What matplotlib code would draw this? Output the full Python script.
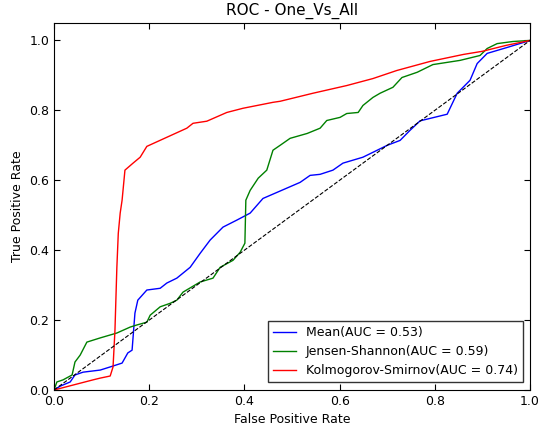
import numpy as np
import matplotlib
matplotlib.use("Agg")
import matplotlib.pyplot as plt

# ROC points (fpr, tpr)
mean_fpr = [0.0, 0.013, 0.034, 0.044, 0.061, 0.097, 0.118, 0.143, 0.155, 0.164, 0.170,
            0.176, 0.195, 0.223, 0.237, 0.258, 0.286, 0.307, 0.328, 0.355, 0.384, 0.412,
            0.439, 0.517, 0.538, 0.559, 0.586, 0.607, 0.649, 0.670, 0.700, 0.727, 0.748,
            0.769, 0.826, 0.847, 0.874, 0.889, 0.910, 0.952, 1.0]
mean_tpr = [0.0, 0.011, 0.023, 0.043, 0.051, 0.057, 0.066, 0.077, 0.106, 0.114, 0.220,
            0.257, 0.286, 0.291, 0.306, 0.320, 0.351, 0.391, 0.429, 0.466, 0.486, 0.506,
            0.548, 0.594, 0.614, 0.617, 0.629, 0.649, 0.666, 0.680, 0.700, 0.714, 0.743,
            0.770, 0.789, 0.849, 0.886, 0.934, 0.963, 0.980, 1.0]

js_fpr = [0.0, 0.006, 0.019, 0.038, 0.044, 0.055, 0.069, 0.097, 0.132, 0.160, 0.174,
          0.195, 0.202, 0.223, 0.244, 0.258, 0.271, 0.307, 0.334, 0.349, 0.376, 0.391,
          0.401, 0.403, 0.412, 0.429, 0.447, 0.460, 0.475, 0.496, 0.532, 0.559, 0.573,
          0.601, 0.615, 0.639, 0.649, 0.670, 0.685, 0.712, 0.731, 0.763, 0.796, 0.853,
          0.895, 0.910, 0.931, 0.964, 1.0]
js_tpr = [0.0, 0.023, 0.029, 0.043, 0.080, 0.100, 0.137, 0.149, 0.163, 0.180, 0.186,
          0.194, 0.214, 0.238, 0.248, 0.257, 0.280, 0.309, 0.320, 0.351, 0.371, 0.394,
          0.420, 0.543, 0.571, 0.606, 0.629, 0.686, 0.700, 0.720, 0.734, 0.749, 0.771,
          0.780, 0.791, 0.794, 0.814, 0.837, 0.849, 0.866, 0.894, 0.909, 0.931, 0.943,
          0.957, 0.977, 0.991, 0.997, 1.0]

ks_fpr = [0.0, 0.082, 0.097, 0.118, 0.124, 0.128, 0.132, 0.135, 0.139, 0.143, 0.149,
          0.166, 0.181, 0.195, 0.237, 0.279, 0.292, 0.321, 0.363, 0.397, 0.460, 0.475,
          0.544, 0.615, 0.670, 0.720, 0.790, 0.860, 0.900, 0.950, 1.0]
ks_tpr = [0.0, 0.029, 0.034, 0.040, 0.066, 0.170, 0.350, 0.448, 0.506, 0.543, 0.629,
          0.649, 0.666, 0.697, 0.723, 0.749, 0.763, 0.769, 0.794, 0.806, 0.823, 0.826,
          0.849, 0.871, 0.891, 0.914, 0.940, 0.960, 0.969, 0.986, 1.0]

labels = ["Mean(AUC = 0.53)", "Jensen-Shannon(AUC = 0.59)", "Kolmogorov-Smirnov(AUC = 0.74)"]

plt.rcParams['xtick.direction'] = 'in'
plt.rcParams['ytick.direction'] = 'in'
plt.rcParams['xtick.top'] = True
plt.rcParams['ytick.right'] = True
plt.rcParams['xtick.major.size'] = 4
plt.rcParams['ytick.major.size'] = 4

fig = plt.figure(figsize=(5.49, 4.28), dpi=100)
ax = fig.add_axes([0.0984, 0.0888, 0.867, 0.8575])

ax.plot(mean_fpr, mean_tpr, color='b', lw=1, label=labels[0])
ax.plot(js_fpr, js_tpr, color='g', lw=1, label=labels[1])
ax.plot(ks_fpr, ks_tpr, color='r', lw=1, label=labels[2])
ax.plot([0, 1], [0, 1], 'k--', lw=0.8)

ax.set_xlim(0, 1)
ax.set_ylim(0, 1.05)
ax.set_xticks([0, 0.2, 0.4, 0.6, 0.8, 1.0])
ax.set_yticks([0, 0.2, 0.4, 0.6, 0.8, 1.0])
ax.tick_params(labelsize=9)
ax.set_xlabel("False Positive Rate", fontsize=9)
ax.set_ylabel("True Positive Rate", fontsize=9)
ax.set_title("ROC - One_Vs_All", fontsize=11)

leg = ax.legend(loc='lower right', fontsize=9, fancybox=False, handlelength=1.8,
                borderaxespad=0.6)
leg.get_frame().set_edgecolor('black')

fig.savefig("out.png", dpi=100, facecolor='white')
